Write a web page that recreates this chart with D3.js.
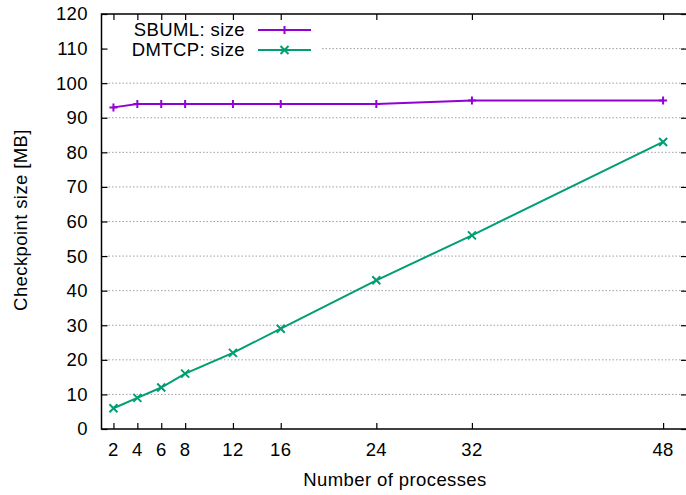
<!DOCTYPE html>
<html>
<head>
  <meta charset="UTF-8">
  <title>Checkpoint size</title>
  <style>
    body{ margin:0; background:#fff; }
    text{ font-family: 'Liberation Sans', Arial, Helvetica, sans-serif; font-size:18.5px; letter-spacing:0.4px; fill:#000; }
    .grid line{ stroke:#a0a0a0; stroke-width:1; stroke-dasharray:1.5,2; }
  </style>
</head>
<body>
  <script src="https://d3js.org/d3.v7.min.js"></script>
  <script>
    // values
    var procs = [2, 4, 6, 8, 12, 16, 24, 32, 48];
    var sbumlSize = [93, 94, 94, 94, 94, 94, 94, 95, 95];
    var dmtcpSize = [6, 9, 12, 16, 22, 29, 43, 56, 83];
    var yTicks = [0, 10, 20, 30, 40, 50, 60, 70, 80, 90, 100, 110, 120];
    var seriesNames = ["SBUML: size", "DMTCP: size"];
    var seriesColors = ["#9400d3", "#009e73"];

    var width = 686, height = 495;
    var svg = d3.select("body").append("svg")
        .attr("width", width)
        .attr("height", height);

    var x = d3.scaleLinear().domain([1, 50]).range([101.5, 687]);
    var y = d3.scaleLinear().domain([0, 120]).range([429, 14]);
    var tick = 6;

    // grid
    svg.append("g").attr("class", "grid")
      .selectAll("line").data(yTicks.slice(1, -1))
      .enter().append("line")
        .attr("x1", x(1)).attr("x2", x(50))
        .attr("y1", function(d) { return y(d); })
        .attr("y2", function(d) { return y(d); });

    // legend box hides the grid behind it
    svg.append("rect")
      .attr("x", 104).attr("y", 16)
      .attr("width", 218).attr("height", 42)
      .attr("fill", "#fff");

    // frame
    svg.append("rect")
      .attr("x", x(1)).attr("y", y(120))
      .attr("width", x(50) - x(1)).attr("height", y(0) - y(120))
      .attr("fill", "none").attr("stroke", "#000").attr("stroke-width", 1.5);

    // axes (ticks inward, mirrored)
    var axLeft = svg.append("g")
      .attr("transform", "translate(" + x(1) + ",0)")
      .call(d3.axisRight(y).tickValues(yTicks).tickSize(tick).tickFormat(""));
    var axRight = svg.append("g")
      .attr("transform", "translate(" + x(50) + ",0)")
      .call(d3.axisLeft(y).tickValues(yTicks).tickSize(tick).tickFormat(""));
    var axBottom = svg.append("g")
      .attr("transform", "translate(0," + y(0) + ")")
      .call(d3.axisTop(x).tickValues(procs).tickSize(tick).tickFormat(""));
    var axTop = svg.append("g")
      .attr("transform", "translate(0," + y(120) + ")")
      .call(d3.axisBottom(x).tickValues(procs).tickSize(tick).tickFormat(""));
    [axLeft, axRight, axBottom, axTop].forEach(function(a) {
      a.select(".domain").remove();
      a.selectAll("line").attr("stroke", "#000").attr("stroke-width", 1.2);
    });

    // tick labels
    svg.append("g").selectAll("text").data(yTicks)
      .enter().append("text")
        .attr("x", 88)
        .attr("y", function(d) { return y(d); })
        .attr("dy", "0.35em")
        .attr("text-anchor", "end")
        .text(function(d) { return d; });

    svg.append("g").selectAll("text").data(procs)
      .enter().append("text")
        .attr("x", function(d) { return x(d); })
        .attr("y", 456)
        .attr("text-anchor", "middle")
        .text(function(d) { return d; });

    svg.append("text")
      .attr("x", 395).attr("y", 486)
      .attr("text-anchor", "middle")
      .text("Number of processes");

    svg.append("text")
      .attr("transform", "translate(27,220) rotate(-90)")
      .attr("text-anchor", "middle")
      .text("Checkpoint size [MB]");

    // series
    var series = [sbumlSize, dmtcpSize];
    var line = d3.line()
      .x(function(d, i) { return x(procs[i]); })
      .y(function(d) { return y(d); });

    function plusPath(cx, cy, r) {
      return "M" + (cx - r) + "," + cy + "H" + (cx + r) + "M" + cx + "," + (cy - r) + "V" + (cy + r);
    }
    function crossPath(cx, cy, r) {
      return "M" + (cx - r) + "," + (cy - r) + "L" + (cx + r) + "," + (cy + r) +
             "M" + (cx - r) + "," + (cy + r) + "L" + (cx + r) + "," + (cy - r);
    }
    var markers = [plusPath, crossPath];

    series.forEach(function(vals, s) {
      svg.append("path")
        .datum(vals)
        .attr("d", line)
        .attr("fill", "none")
        .attr("stroke", seriesColors[s])
        .attr("stroke-width", 2);
      svg.append("g").selectAll("path").data(vals)
        .enter().append("path")
          .attr("d", function(d, i) { return markers[s](x(procs[i]), y(d), 4); })
          .attr("stroke", seriesColors[s])
          .attr("stroke-width", 2)
          .attr("fill", "none");
    });

    // legend
    var legendY = [30, 50];
    seriesNames.forEach(function(name, s) {
      svg.append("text")
        .attr("x", 245).attr("y", legendY[s])
        .attr("dy", "0.35em")
        .attr("text-anchor", "end")
        .text(name);
      svg.append("line")
        .attr("x1", 258).attr("x2", 311)
        .attr("y1", legendY[s]).attr("y2", legendY[s])
        .attr("stroke", seriesColors[s]).attr("stroke-width", 2);
      svg.append("path")
        .attr("d", markers[s](284.5, legendY[s], 4))
        .attr("stroke", seriesColors[s]).attr("stroke-width", 2)
        .attr("fill", "none");
    });
  </script>
</body>
</html>
